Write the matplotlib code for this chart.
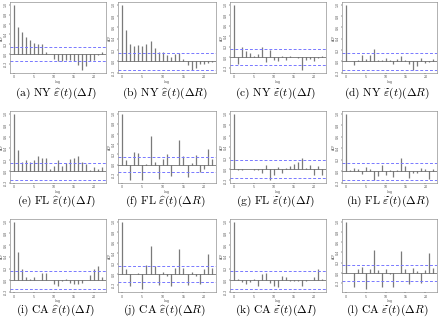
import numpy as np
import matplotlib
matplotlib.use("Agg")
import matplotlib.pyplot as plt

plt.rcParams['mathtext.fontset'] = 'cm'

# ACF values, lag 0..22
lags = list(range(23))
acf_a = [1.0, 0.55, 0.44, 0.34, 0.28, 0.22, 0.20, 0.20, 0.05, 0.01, -0.09, -0.15, -0.14, -0.13, -0.12, -0.14, -0.22, -0.33, -0.24, -0.15, -0.12, -0.02, 0.05]
acf_b = [1.0, 0.55, 0.31, 0.27, 0.29, 0.27, 0.31, 0.35, 0.23, 0.17, 0.16, 0.12, 0.07, 0.13, 0.14, 0.04, -0.06, -0.16, -0.12, -0.05, -0.05, -0.03, -0.02]
acf_c = [1.0, -0.12, 0.20, 0.11, 0.08, 0.03, 0.06, 0.20, -0.09, 0.14, -0.05, -0.07, 0.03, -0.05, 0.02, 0.01, -0.01, -0.25, -0.05, -0.04, -0.07, -0.02, 0.02]
acf_d = [1.0, 0.00, -0.06, 0.02, 0.12, 0.04, 0.12, 0.22, 0.02, 0.03, 0.06, 0.03, -0.05, 0.04, 0.10, 0.02, -0.05, -0.16, -0.08, 0.06, -0.03, -0.02, 0.04]
acf_e = [1.0, 0.37, 0.17, 0.19, 0.17, 0.20, 0.27, 0.23, 0.23, 0.04, 0.10, 0.19, 0.10, 0.14, 0.21, 0.23, 0.27, 0.17, 0.13, 0.03, 0.07, 0.05, 0.07]
acf_f = [1.0, 0.08, -0.31, 0.24, 0.23, -0.30, 0.01, 0.56, 0.05, -0.28, 0.11, 0.21, -0.23, -0.01, 0.49, 0.16, -0.25, 0.03, 0.19, -0.14, -0.08, 0.31, 0.11]
acf_g = [1.0, -0.02, -0.02, 0.01, 0.01, -0.02, -0.02, -0.06, 0.07, -0.20, -0.10, 0.04, -0.07, 0.02, 0.05, 0.10, 0.13, 0.20, 0.02, 0.08, -0.10, 0.05, -0.10]
acf_h = [1.0, 0.02, 0.05, 0.04, -0.05, 0.08, 0.03, -0.16, -0.08, 0.10, -0.06, 0.02, -0.10, 0.02, 0.22, 0.09, -0.12, -0.04, -0.03, 0.05, 0.03, -0.14, 0.04]
acf_i = [1.0, 0.49, 0.20, 0.06, 0.03, 0.05, 0.01, 0.13, 0.13, 0.00, -0.07, -0.10, -0.01, 0.02, -0.04, -0.07, -0.07, -0.04, 0.01, 0.09, 0.19, 0.25, 0.06]
acf_j = [1.0, 0.10, -0.22, 0.01, 0.03, -0.29, 0.17, 0.54, 0.15, -0.20, 0.04, -0.03, -0.22, 0.11, 0.48, 0.12, -0.21, 0.04, -0.03, -0.18, 0.10, 0.38, 0.12]
acf_k = [1.0, 0.03, -0.03, -0.06, -0.03, 0.03, -0.10, 0.10, 0.13, -0.04, -0.09, -0.11, 0.07, 0.05, -0.02, -0.01, -0.01, -0.09, -0.01, 0.01, 0.06, 0.20, 0.03]
acf_l = [1.0, 0.00, -0.27, 0.07, 0.12, -0.32, 0.07, 0.45, 0.06, -0.27, 0.07, -0.02, -0.28, -0.01, 0.43, 0.07, -0.22, 0.09, 0.04, -0.20, 0.05, 0.38, 0.09]

ci_bounds = [0.15, 0.15, 0.15, 0.15, 0.14, 0.15, 0.16, 0.15, 0.15, 0.16, 0.15, 0.16]

captions = [
    r"$\mathrm{(a)\ NY}\ \widehat{\varepsilon}(t)(\Delta I)$",
    r"$\mathrm{(b)\ NY}\ \widehat{\varepsilon}(t)(\Delta R)$",
    r"$\mathrm{(c)\ NY}\ \widetilde{\varepsilon}(t)(\Delta I)$",
    r"$\mathrm{(d)\ NY}\ \widetilde{\varepsilon}(t)(\Delta R)$",
    r"$\mathrm{(e)\ FL}\ \widehat{\varepsilon}(t)(\Delta I)$",
    r"$\mathrm{(f)\ FL}\ \widehat{\varepsilon}(t)(\Delta R)$",
    r"$\mathrm{(g)\ FL}\ \widetilde{\varepsilon}(t)(\Delta I)$",
    r"$\mathrm{(h)\ FL}\ \widetilde{\varepsilon}(t)(\Delta R)$",
    r"$\mathrm{(i)\ CA}\ \widehat{\varepsilon}(t)(\Delta I)$",
    r"$\mathrm{(j)\ CA}\ \widehat{\varepsilon}(t)(\Delta R)$",
    r"$\mathrm{(k)\ CA}\ \widetilde{\varepsilon}(t)(\Delta I)$",
    r"$\mathrm{(l)\ CA}\ \widetilde{\varepsilon}(t)(\Delta R)$",
]
all_acf = [acf_a, acf_b, acf_c, acf_d, acf_e, acf_f, acf_g, acf_h, acf_i, acf_j, acf_k, acf_l]

W, H = 440.0, 320.0
fig = plt.figure(figsize=(4.4, 3.2), dpi=100)

# frame boxes in pixels (left, right) per column and (top, bottom) per row
col_x = [(10, 106), (118, 216), (230, 326), (342, 437)]
row_y = [(2, 73), (111, 183), (219, 292)]
cap_y = [93, 201, 310]

for k, acf in enumerate(all_acf):
    r, c = divmod(k, 4)
    x0, x1 = col_x[c]
    y0, y1 = row_y[r]
    ax = fig.add_axes([x0 / W, 1 - y1 / H, (x1 - x0) / W, (y1 - y0) / H])
    ci = ci_bounds[k]
    ax.vlines(lags, 0, acf, color='#7a7a7a', linewidth=0.9)
    ax.axhline(0, color='#555555', linewidth=0.5)
    for b in (ci, -ci):
        ax.axhline(b, color='#7878ff', linewidth=0.7, linestyle=(0, (3, 2)), snap=True)
    lo = min(min(acf), -ci)
    span = 1.0 - lo
    ax.set_ylim(lo - 0.04 * span, 1.0 + 0.04 * span)
    ax.set_xlim(-0.88, 22.88)
    ax.set_yticks(np.arange(-0.2, 1.01, 0.2))
    ax.set_yticklabels(["%.1f" % v for v in np.arange(-0.2, 1.01, 0.2)],
                       rotation=90, va='center', fontsize=2.3, color='#555555')
    ax.set_xticks([0, 5, 10, 15, 20])
    ax.tick_params(axis='x', labelsize=2.3, labelcolor='#555555', length=1.0, width=0.3, pad=0.8)
    ax.tick_params(axis='y', length=1.0, width=0.3, pad=0.5)
    ax.set_xlabel("Lag", fontsize=2.3, labelpad=0.5, color='#555555')
    ax.set_ylabel("ACF", fontsize=2.3, labelpad=0.3, color='#555555')
    for s in ax.spines.values():
        s.set_linewidth(0.4)
        s.set_color('#777777')
    fig.text((x0 + x1) / 2 / W - 0.005, 1 - cap_y[r] / H, captions[k],
             ha='center', va='center', fontsize=8.3)

fig.savefig("out.png", dpi=100)
